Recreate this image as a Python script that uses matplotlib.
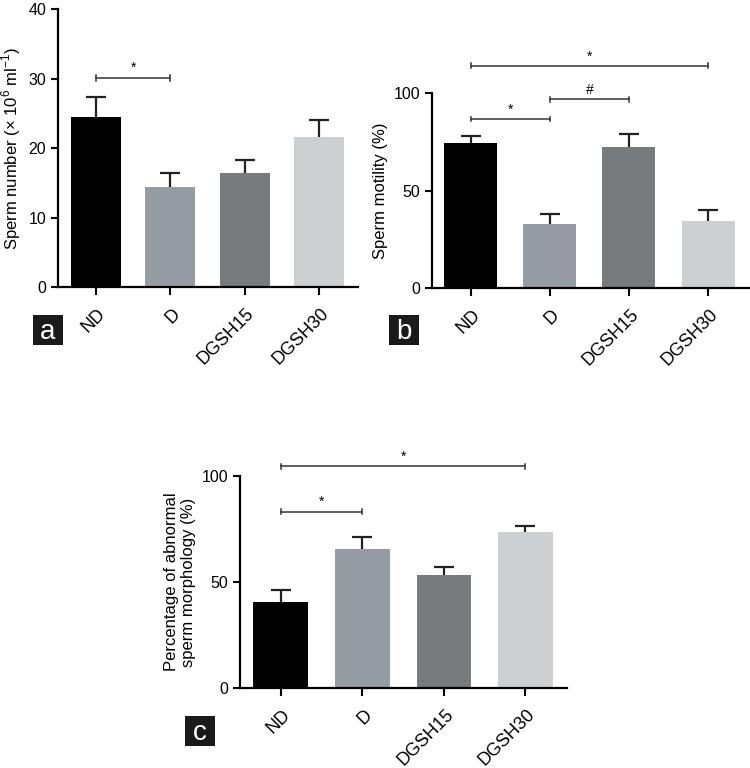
import matplotlib
matplotlib.use("Agg")
import matplotlib.pyplot as plt
from matplotlib.patches import Rectangle
from matplotlib.transforms import ScaledTranslation

plt.rcParams['font.family'] = ['Liberation Sans', 'DejaVu Sans']
plt.rcParams['mathtext.fontset'] = 'custom'
plt.rcParams['mathtext.rm'] = 'Liberation Sans'

# Data
groups = ['ND', 'D', 'DGSH15', 'DGSH30']
colors = ['#000000', '#959ca3', '#777b7e', '#ccd0d3']

sperm_number = [24.5, 14.4, 16.5, 21.6]
sperm_number_err = [2.9, 2.1, 1.8, 2.5]

sperm_motility = [74.4, 33.1, 72.6, 34.5]
sperm_motility_err = [3.9, 5.2, 6.7, 5.8]

abnormal_morph = [40.8, 65.5, 53.2, 73.8]
abnormal_morph_err = [5.6, 5.8, 3.9, 2.8]

# significance brackets: (from index, to index, height, mark)
sig_a = [(0, 1, 30.1, '*')]
sig_b = [(0, 1, 86.8, '*'), (1, 2, 96.9, '#'), (0, 3, 114.2, '*')]
sig_c = [(0, 1, 83.2, '*'), (0, 3, 104.6, '*')]


def bar_panel(fig, ax, values, errs, ylim, yticks, ylabel, sigs, xlim):
    x = list(range(len(groups)))
    ax.bar(x, values, width=0.67, color=colors, zorder=2)
    _, caps, _ = ax.errorbar(x, values, yerr=[[0] * len(errs), errs],
                             fmt='none', ecolor='#222222', elinewidth=1.6,
                             capsize=7.5, capthick=1.6, zorder=1)
    caps[0].set_visible(False)  # one-sided error bars
    ax.set_ylim(*ylim)
    ax.set_yticks(yticks)
    ax.set_xlim(*xlim)
    ax.set_xticks(x)
    ax.set_xticklabels([])
    off = ScaledTranslation(0.07, -0.24, fig.dpi_scale_trans)
    for i, g in zip(x, groups):
        ax.text(i, 0, g, transform=ax.get_xaxis_transform() + off,
                rotation=45, rotation_mode='anchor', ha='right', va='center',
                fontsize=13)
    ax.tick_params(axis='y', labelsize=11.5, width=1.5, length=5)
    ax.tick_params(axis='x', width=1.5, length=6)
    for s in ['top', 'right']:
        ax.spines[s].set_visible(False)
    for s in ['left', 'bottom']:
        ax.spines[s].set_linewidth(1.6)
    ax.set_ylabel(ylabel, fontsize=12)
    span = ylim[1] - ylim[0]
    for i0, i1, h, mark in sigs:
        cap = span * 0.012
        ax.plot([i0, i1], [h, h], color='#333333', lw=1.1, clip_on=False)
        for xi in (i0, i1):
            ax.plot([xi, xi], [h - cap, h + cap], color='#333333', lw=1.1,
                    clip_on=False)
        ax.text((i0 + i1) / 2, h + span * 0.012, mark, ha='center',
                va='bottom', fontsize=10, clip_on=False)


fig = plt.figure(figsize=(7.5, 7.68), dpi=100)

ax_a = fig.add_axes([0.0773, 0.6259, 0.3997, 0.3624])
bar_panel(fig, ax_a, sperm_number, sperm_number_err, (0, 40),
          [0, 10, 20, 30, 40], 'Sperm number (× 10$^{6}$ ml$^{-1}$)',
          sig_a, (-0.51, 3.52))

ax_b = fig.add_axes([0.576, 0.6246, 0.424, 0.2539])
bar_panel(fig, ax_b, sperm_motility, sperm_motility_err, (0, 100),
          [0, 50, 100], 'Sperm motility (%)', sig_b, (-0.49, 3.53))

ax_c = fig.add_axes([0.32, 0.1038, 0.436, 0.2764])
bar_panel(fig, ax_c, abnormal_morph, abnormal_morph_err, (0, 100),
          [0, 50, 100], 'Percentage of abnormal\nsperm morphology (%)',
          sig_c, (-0.5, 3.51))

# panel letters in black boxes (pixel centres of the reference)
for letter, (cx, cy) in zip(['a', 'b', 'c'],
                            [(47.5, 330), (404, 330), (199.5, 731)]):
    w, h = 30 / 750, 30 / 768
    fx, fy = cx / 750, 1 - cy / 768
    fig.add_artist(Rectangle((fx - w / 2, fy - h / 2), w, h,
                             transform=fig.transFigure, fc='#1a1a1a',
                             ec='none'))
    fig.text(fx, fy - 0.002, letter, color='white', fontsize=20,
             ha='center', va='center')

fig.savefig('out.png', dpi=100)
